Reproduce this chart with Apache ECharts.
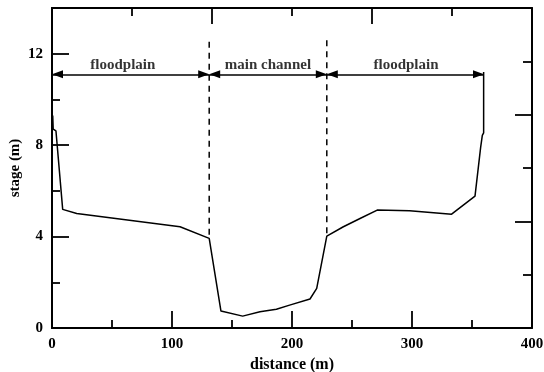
<!DOCTYPE html>
<html>
<head>
<meta charset="utf-8">
<script src="https://cdn.jsdelivr.net/npm/echarts@6/dist/echarts.min.js"></script>
<style>
html,body{margin:0;padding:0;background:#fff;}
#chart{width:544px;height:372px;}
</style>
</head>
<body>
<div id="chart"></div>
<script>
// Cross-section profile
const profileDistance = [0.6, 1.0, 3.3, 8.9, 20.6, 106.7, 131, 140.8, 158.9, 173.3, 187, 198, 215, 220.6, 229, 242.8, 256.7, 271, 298, 333, 352.5, 357.2, 358.6, 358.6, 359.7, 359.7];
const profileStage    = [9.3, 8.7, 8.62, 5.19, 5.01, 4.43, 3.92, 0.74, 0.52, 0.71, 0.82, 1.0, 1.27, 1.73, 4.02, 4.43, 4.79, 5.16, 5.13, 4.98, 5.77, 7.9, 7.92, 8.43, 8.54, 11.2];

// Bank (dashed) lines
const bankDistance = [131, 229];
const bankTop = [12.52, 12.59];
const bankBottom = [3.92, 4.02];

// Zones (arrows + labels)
const zoneNames = ['floodplain', 'main channel', 'floodplain'];
const zoneStart = [0, 131, 229];
const zoneEnd = [131, 229, 360];
const zoneLabelX = [59, 180, 295];
const arrowStage = 11.1;
const labelStage = 11.5;

// Axis ticks
const xMajor = 100;
const yMajorTicks = [0, 4, 8, 12];
const yMinorTicks = [2, 6, 10];

const FONT = 'Liberation Serif';
const black = '#000';

const profile = profileDistance.map((d, i) => [d, profileStage[i]]);

const series = [];
series.push({
  type: 'line', data: profile, showSymbol: false, symbol: 'none',
  lineStyle: { color: black, width: 1.5 }, animation: false, z: 3
});
bankDistance.forEach((d, i) => {
  series.push({
    type: 'line', data: [[d, bankTop[i]], [d, bankBottom[i]]], symbol: 'none',
    lineStyle: { color: black, width: 1.5, type: [6, 5] }, animation: false
  });
});
series.push({
  type: 'line', data: [], symbol: 'none', animation: false,
  markLine: {
    silent: true, animation: false,
    symbol: ['triangle', 'triangle'],
    symbolSize: [8, 11],
    symbolOffset: [[0, 5.5], [0, 5.5]],
    lineStyle: { color: black, width: 1.5, type: 'solid' },
    itemStyle: { color: black },
    label: { show: false },
    emphasis: { disabled: true },
    data: zoneStart.map((s, i) => [
      { coord: [s, arrowStage] },
      { coord: [zoneEnd[i], arrowStage] }
    ])
  }
});
series.push({
  type: 'scatter', symbolSize: 0, animation: false, silent: true,
  data: zoneNames.map((n, i) => ({ value: [zoneLabelX[i], labelStage], name: n })),
  label: {
    show: true, position: 'inside', formatter: p => p.name,
    color: black, fontFamily: FONT, fontWeight: 'bold', fontSize: 15
  }
});

const axisLine = { show: true, onZero: false, lineStyle: { color: black, width: 2 } };
const tickStyle = { color: black, width: 1.8 };

const option = {
  backgroundColor: '#fff',
  animation: false,
  grid: { left: 52, right: 12, top: 8, bottom: 44, containLabel: false, outerBoundsMode: 'none' },
  xAxis: [
    {
      type: 'value', position: 'bottom', min: 0, max: 400, interval: xMajor,
      axisLine: axisLine,
      axisTick: { show: true, inside: true, length: 17, lineStyle: tickStyle },
      minorTick: { show: true, splitNumber: 2, length: 8, lineStyle: tickStyle },
      splitLine: { show: false }, minorSplitLine: { show: false },
      axisLabel: { color: black, fontFamily: FONT, fontWeight: 'bold', fontSize: 15, margin: 9 },
      name: 'distance (m)', nameLocation: 'middle', nameGap: 29, nameMoveOverlap: false,
      nameTextStyle: { color: black, fontFamily: FONT, fontWeight: 'bold', fontSize: 16 }
    },
    {
      type: 'value', position: 'top', min: 0, max: 6, interval: 2,
      axisLine: axisLine,
      axisTick: { show: true, inside: true, length: 16, lineStyle: tickStyle },
      minorTick: { show: true, splitNumber: 2, length: 8, lineStyle: tickStyle },
      splitLine: { show: false }, minorSplitLine: { show: false },
      axisLabel: { show: false }
    }
  ],
  yAxis: [
    {
      type: 'value', position: 'left', min: 0, max: 14,
      axisLine: axisLine,
      axisTick: { show: true, inside: true, length: 17, lineStyle: tickStyle, customValues: yMajorTicks },
      splitLine: { show: false },
      axisLabel: { color: black, fontFamily: FONT, fontWeight: 'bold', fontSize: 15, margin: 9, customValues: yMajorTicks },
      name: 'stage (m)', nameLocation: 'middle', nameGap: 29, nameMoveOverlap: false,
      nameTextStyle: { color: black, fontFamily: FONT, fontWeight: 'bold', fontSize: 15 }
    },
    {
      type: 'value', position: 'left', min: 0, max: 14,
      axisLine: axisLine,
      axisTick: { show: true, inside: true, length: 8, lineStyle: tickStyle, customValues: yMinorTicks },
      splitLine: { show: false },
      axisLabel: { show: false }
    },
    {
      type: 'value', position: 'right', min: 0, max: 6, interval: 2,
      axisLine: axisLine,
      axisTick: { show: true, inside: true, length: 17, lineStyle: tickStyle },
      minorTick: { show: true, splitNumber: 2, length: 9, lineStyle: tickStyle },
      splitLine: { show: false }, minorSplitLine: { show: false },
      axisLabel: { show: false }
    }
  ],
  series: series
};

const chart = echarts.init(document.getElementById('chart'), null, { renderer: 'canvas' });
chart.setOption(option);
</script>
</body>
</html>
